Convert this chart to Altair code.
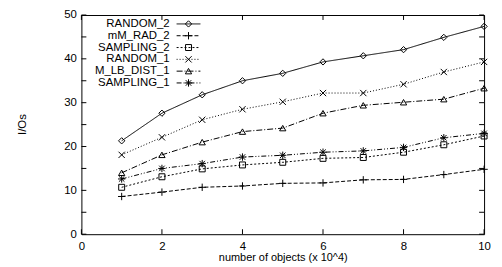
import altair as alt
import pandas as pd

x_vals = list(range(1, 11))
names = ["RANDOM_2", "mM_RAD_2", "SAMPLING_2", "RANDOM_1", "M_LB_DIST_1", "SAMPLING_1"]
random_2 = [21.3, 27.6, 31.8, 35.0, 36.7, 39.3, 40.7, 42.1, 44.9, 47.4]
mm_rad_2 = [8.6, 9.6, 10.7, 11.0, 11.6, 11.7, 12.4, 12.5, 13.6, 14.8]
sampling_2 = [10.7, 13.1, 14.9, 15.8, 16.4, 17.3, 17.5, 18.7, 20.4, 22.4]
random_1 = [18.1, 22.1, 26.1, 28.5, 30.2, 32.2, 32.2, 34.2, 37.0, 39.3]
m_lb_dist_1 = [14.0, 18.1, 21.0, 23.4, 24.2, 27.6, 29.4, 30.1, 30.8, 33.3]
sampling_1 = [12.6, 15.0, 16.1, 17.6, 18.0, 18.7, 19.0, 19.8, 22.0, 23.0]
x_ticks = [0, 2, 4, 6, 8, 10]
y_ticks = [0, 5, 10, 15, 20, 25, 30, 35, 40, 45, 50]

series = [random_2, mm_rad_2, sampling_2, random_1, m_lb_dist_1, sampling_1]
dashes = [[1, 0], [4, 2], [2, 2], [1, 2], [6, 2, 1, 2], [5, 2, 1, 2, 1, 2]]
PLUS = "M-1,0L1,0M0,-1L0,1"
XCROSS = "M-1,-1L1,1M-1,1L1,-1"
STAR = "M-1,0L1,0M0,-1L0,1M-0.75,-0.75L0.75,0.75M-0.75,0.75L0.75,-0.75"
shapes = ["diamond", PLUS, "square", XCROSS, "triangle-up", STAR]
sizes = [40, 55, 36, 40, 40, 55]

rows = []
for n, vals in zip(names, series):
    for xv, yv in zip(x_vals, vals):
        rows.append({"series": n, "x": xv, "y": yv})
df = pd.DataFrame(rows)

W, H = 406, 221
FONT = "Liberation Sans"

xs = alt.Scale(domain=[0, 10], nice=False)
ys = alt.Scale(domain=[0, 50], nice=False)

xaxis = alt.Axis(values=x_ticks, ticks=False, domain=False, grid=False, labelPadding=6,
                 labelFlush=False, labelOverlap=False,
                 title="number of objects (x 10^4)", titleBaseline="alphabetic", titleY=27,
                 titleFontWeight="normal", titleFontSize=11, titleFont=FONT)
yaxis = alt.Axis(values=y_ticks, ticks=False, domain=False, grid=False, labelPadding=5,
                 labelFlush=False, labelOverlap=False,
                 title="I/Os", titleAngle=-90, titleX=-59, titleY=110, titleAlign="center",
                 titleBaseline="middle", titleFontWeight="normal", titleFontSize=11.5, titleFont=FONT)

base = alt.Chart(df)
lines = base.mark_line(color="black", strokeWidth=1).encode(
    x=alt.X("x:Q", scale=xs, axis=xaxis),
    y=alt.Y("y:Q", scale=ys, axis=yaxis),
    detail="series:N",
    strokeDash=alt.StrokeDash("series:N", scale=alt.Scale(domain=names, range=dashes), legend=None),
)
layers = [lines]
for n, shp, sz in zip(names, shapes, sizes):
    layers.append(
        alt.Chart(df[df.series == n]).mark_point(
            shape=shp, size=sz, filled=False, color="black", strokeWidth=1, opacity=1
        ).encode(x=alt.X("x:Q", scale=xs), y=alt.Y("y:Q", scale=ys))
    )

xt = pd.DataFrame({"t": x_ticks})
yt = pd.DataFrame({"t": y_ticks})
layers.append(alt.Chart(xt).mark_rule(color="black", strokeWidth=1).encode(
    x=alt.X("t:Q", scale=xs), y=alt.value(H), y2=alt.value(H - 5)))
layers.append(alt.Chart(xt).mark_rule(color="black", strokeWidth=1).encode(
    x=alt.X("t:Q", scale=xs), y=alt.value(0), y2=alt.value(5)))
layers.append(alt.Chart(yt).mark_rule(color="black", strokeWidth=1).encode(
    y=alt.Y("t:Q", scale=ys), x=alt.value(0), x2=alt.value(5)))
layers.append(alt.Chart(yt).mark_rule(color="black", strokeWidth=1).encode(
    y=alt.Y("t:Q", scale=ys), x=alt.value(W), x2=alt.value(W - 5)))

# legend (manual, gnuplot style)
leg_df = pd.DataFrame({"series": names})
for i, (n, d, shp, sz) in enumerate(zip(names, dashes, shapes, sizes)):
    ly = 9 + i * 11.9
    sub = alt.Chart(leg_df[leg_df.series == n])
    layers.append(sub.mark_text(align="right", baseline="middle", font=FONT, fontSize=11.5,
                                color="black").encode(
        text="series:N", x=alt.value(89), y=alt.value(ly)))
    layers.append(sub.mark_rule(color="black", strokeWidth=1, strokeDash=d).encode(
        x=alt.value(96), x2=alt.value(120), y=alt.value(ly)))
    layers.append(sub.mark_point(shape=shp, size=sz, filled=False, color="black",
                                 strokeWidth=1, opacity=1).encode(
        x=alt.value(108), y=alt.value(ly)))

chart = alt.layer(*layers).properties(
    width=W, height=H,
    autosize=alt.AutoSizeParams(type="none"),
    padding={"left": 74, "top": 6, "right": 10, "bottom": 31},
    background="white",
).configure_view(stroke="black", strokeWidth=1).configure_axis(
    labelFont=FONT, labelFontSize=11.5, labelColor="black", titleColor="black"
)

chart.save("out.html", embed_options={"renderer": "svg", "actions": False})
